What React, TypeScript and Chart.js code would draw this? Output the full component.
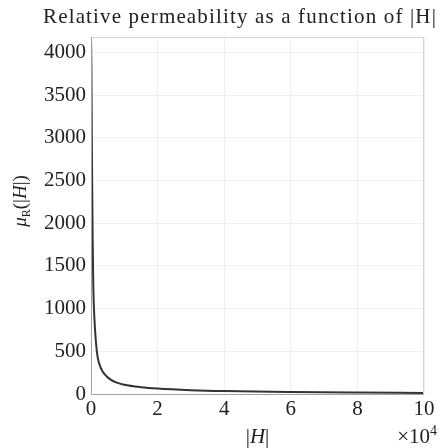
import React, { useEffect, useRef } from "react";
import { Chart, registerables } from "chart.js";

Chart.register(...registerables);

const fieldH = [0, 100, 200, 300, 500, 700, 1000, 1500, 2000, 3000, 4000, 6000, 8000, 10000, 15000, 20000, 30000, 40000, 60000, 80000, 100000];
const muR = [4180, 3900, 3300, 2700, 1800, 1250, 900, 600, 430, 300, 235, 165, 130, 108, 80, 64, 45, 34, 23, 17, 13];
const yTicks = [0, 500, 1000, 1500, 2000, 2500, 3000, 3500, 4000];
const titleText = "Relative permeability as a function of |H|";
const FONT = "'Liberation Serif', 'DejaVu Serif', serif";

const framePlugin = {
  id: "frame",
  afterDraw(chart: any) {
    const { ctx, chartArea: a } = chart;
    ctx.save();
    ctx.strokeStyle = "#d4d4d4";
    ctx.lineWidth = 1;
    ctx.strokeRect(a.left + 0.5, a.top + 0.5, a.right - a.left - 1, a.bottom - a.top);
    ctx.strokeStyle = "#a0a0a0";
    ctx.beginPath();
    ctx.moveTo(a.left + 0.5, a.top);
    ctx.lineTo(a.left + 0.5, a.bottom + 0.5);
    ctx.lineTo(a.right, a.bottom + 0.5);
    ctx.stroke();
    ctx.fillStyle = "#222";
    ctx.textBaseline = "alphabetic";
    // title, stretched to the width of the original's wider serif face
    ctx.font = `21px ${FONT}`;
    const w0 = ctx.measureText(titleText).width;
    const targetW = 394;
    const spacing = Math.max(0, (targetW - w0) / titleText.length);
    (ctx as any).letterSpacing = `${spacing}px`;
    const w = ctx.measureText(titleText).width;
    let cx = (a.left + a.right) / 2;
    const maxRight = chart.width - 3;
    if (cx + w / 2 > maxRight) cx = maxRight - w / 2;
    ctx.textAlign = "left";
    ctx.fillText(titleText, cx - w / 2, 23);
    (ctx as any).letterSpacing = "0px";
    // multiplier
    ctx.textAlign = "right";
    ctx.font = `14px ${FONT}`;
    const ew = ctx.measureText("4").width;
    ctx.fillText("4", chart.width - 3, 435);
    ctx.font = `21px ${FONT}`;
    ctx.fillText("\u00d710", chart.width - 3 - ew, 443);
    // x title
    ctx.textAlign = "left";
    const xparts: [string, string][] = [["|", `21px ${FONT}`], ["H", `italic 21px ${FONT}`], ["|", `21px ${FONT}`]];
    let tw = 0;
    for (const [t, f] of xparts) { ctx.font = f; tw += ctx.measureText(t).width; }
    let xx = (a.left + a.right) / 2 - tw / 2;
    for (const [t, f] of xparts) { ctx.font = f; ctx.fillText(t, xx, 443); xx += ctx.measureText(t).width; }
    // y title
    const parts: [string, string, number][] = [
      ["μ", `italic 19px ${FONT}`, 0],
      ["R", `12px ${FONT}`, 4],
      ["(|", `19px ${FONT}`, 0],
      ["H", `italic 19px ${FONT}`, 0],
      ["|)", `19px ${FONT}`, 0],
    ];
    let total = 0;
    for (const [t, f] of parts) { ctx.font = f; total += ctx.measureText(t).width; }
    ctx.translate(26, 201);
    ctx.rotate(-Math.PI / 2);
    let x = -total / 2;
    for (const [t, f, dy] of parts) {
      ctx.font = f;
      ctx.fillText(t, x, dy);
      x += ctx.measureText(t).width;
    }
    ctx.restore();
  },
};

export default function App() {
  const ref = useRef<HTMLCanvasElement>(null);
  useEffect(() => {
    document.body.style.margin = "0";
    const chart = new Chart(ref.current!, {
      type: "line",
      data: {
        datasets: [
          {
            data: fieldH.map((h, i) => ({ x: h, y: muR[i] })),
            borderColor: "#333333",
            borderWidth: 2,
            pointRadius: 0,
            cubicInterpolationMode: "monotone",
            fill: false,
          },
        ],
      },
      options: {
        animation: false,
        responsive: false,
        layout: { padding: { left: 0, right: 16, top: 37, bottom: 0 } },
        plugins: { legend: { display: false }, tooltip: { enabled: false }, title: { display: false } },
        scales: {
          x: {
            type: "linear",
            min: 0,
            max: 100000,
            afterFit: (s: any) => { s.height = 54; },
            ticks: {
              stepSize: 20000,
              color: "#222",
              font: { family: FONT, size: 21 },
              padding: 3,
              maxRotation: 0,
              callback: (v: any) => String(Number(v) / 10000),
            },
            grid: { color: "rgba(0,0,0,0.06)", tickLength: 0 },
            border: { display: false },
          },
          y: {
            type: "linear",
            min: 0,
            max: 4180,
            afterFit: (s: any) => { s.width = 91; },
            afterBuildTicks: (s: any) => {
              s.ticks = yTicks.map((v) => ({ value: v }));
            },
            ticks: {
              autoSkip: false,
              color: "#222",
              font: { family: FONT, size: 21 },
              padding: 5,
              callback: (v: any) => String(v),
            },
            grid: { color: "rgba(0,0,0,0.06)", tickLength: 0 },
            border: { display: false },
          },
        },
      },
      plugins: [framePlugin],
    });
    return () => chart.destroy();
  }, []);
  return <canvas ref={ref} width={440} height={448} style={{ display: "block" }} />;
}
